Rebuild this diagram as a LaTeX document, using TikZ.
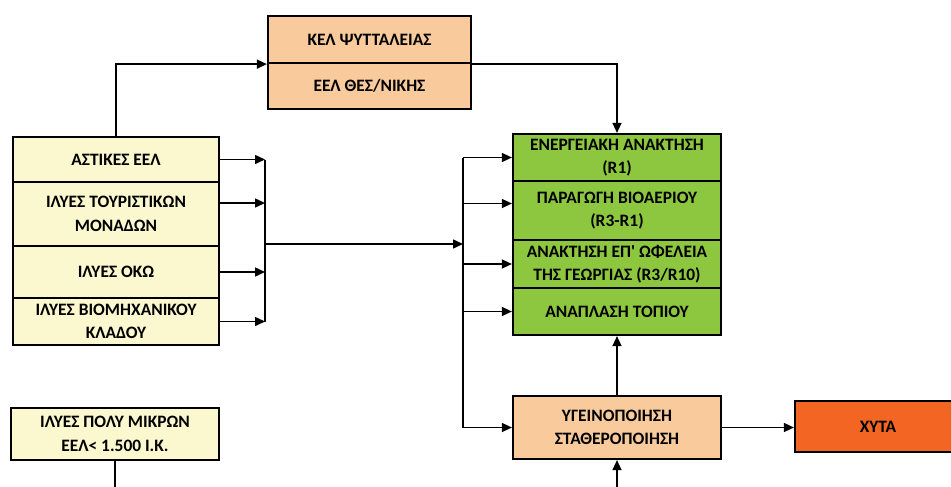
\documentclass[tikz,border=0pt]{standalone}
\usepackage{fontspec}
\setmainfont{Carlito}
\usetikzlibrary{arrows.meta}

\definecolor{paleorange}{HTML}{F9CB9C}
\definecolor{paleyellow}{HTML}{FBF7CE}
\definecolor{leafgreen}{HTML}{8DC63F}
\definecolor{deeporange}{HTML}{F26522}

\begin{document}
\begin{tikzpicture}[x = 1pt, y = -1pt, >={Triangle[length = 10pt, width = 9pt]},
	cell/.style = {draw, line width = 2.2pt, inner sep = 0pt, align = center,
		font = \fontsize{17.4}{23.5}\selectfont\bfseries},
	flow/.style = {line width = 1.5pt}]

\useasboundingbox (0, 0) rectangle (951, 487);

\node[cell, fill = paleorange, minimum width = 203, minimum height = 47] (kel) at (369.5, 39.5) {ΚΕΛ ΨΥΤΤΑΛΕΙΑΣ};
\node[cell, fill = paleorange, minimum width = 203, minimum height = 46] (eel) at (369.5, 86) {ΕΕΛ ΘΕΣ/ΝΙΚΗΣ};

\node[cell, fill = paleyellow, minimum width = 206, minimum height = 45] (ast) at (116, 159.5) {ΑΣΤΙΚΕΣ ΕΕΛ};
\node[cell, fill = paleyellow, minimum width = 206, minimum height = 64] (tour) at (116, 214) {ΙΛΥΕΣ ΤΟΥΡΙΣΤΙΚΩΝ\\ΜΟΝΑΔΩΝ};
\node[cell, fill = paleyellow, minimum width = 206, minimum height = 52] (oko) at (116, 272) {ΙΛΥΕΣ ΟΚΩ};
\node[cell, fill = paleyellow, minimum width = 206, minimum height = 47] (biom) at (116, 321.5) {ΙΛΥΕΣ ΒΙΟΜΗΧΑΝΙΚΟΥ\\ΚΛΑΔΟΥ};
\node[cell, fill = paleyellow, minimum width = 208, minimum height = 52] (mikr) at (115, 434) {ΙΛΥΕΣ ΠΟΛΥ ΜΙΚΡΩΝ\\ΕΕΛ< 1.500 Ι.Κ.};

\node[cell, fill = leafgreen, minimum width = 208, minimum height = 47] (r1) at (617, 157.5) {ΕΝΕΡΓΕΙΑΚΗ ΑΝΑΚΤΗΣΗ\\(R1)};
\node[cell, fill = leafgreen, minimum width = 208, minimum height = 59] (bio) at (617, 210.5) {ΠΑΡΑΓΩΓΗ ΒΙΟΑΕΡΙΟΥ\\(R3-R1)};
\node[cell, fill = leafgreen, minimum width = 208, minimum height = 48] (geo) at (617, 264) {ΑΝΑΚΤΗΣΗ ΕΠ\textquotesingle{} ΩΦΕΛΕΙΑ\\ΤΗΣ ΓΕΩΡΓΙΑΣ (R3/R10)};
\node[cell, fill = leafgreen, minimum width = 208, minimum height = 47] (topio) at (617, 311.5) {ΑΝΑΠΛΑΣΗ ΤΟΠΙΟΥ};

\node[cell, fill = paleorange, minimum width = 208, minimum height = 63] (yg) at (617, 427.5) {ΥΓΕΙΝΟΠΟΙΗΣΗ\\ΣΤΑΘΕΡΟΠΟΙΗΣΗ};
\node[cell, fill = deeporange, minimum width = 166, minimum height = 51] (xyta) at (878, 426.5) {ΧΥΤΑ};

\coordinate (jl) at (265, 244);
\coordinate (jr) at (463, 244);
\coordinate (tourout) at ([yshift = 11pt]tour.east);
\coordinate (bioin) at ([yshift = 7pt]bio.west);
\coordinate (feed) at (617, 492);

\draw[flow, ->] (ast.north) |- (kel.south west);
\draw[flow, ->] (kel.south east) -| (r1.north);

\foreach \n in {ast, oko, biom}
	\draw[flow, ->] (\n.east) -- (\n.east -| jl);
\draw[flow, ->] (tourout) -- (tourout -| jl);
\draw[flow] (ast.east -| jl) -- (biom.east -| jl);
\draw[flow, ->] (jl) -- (jr);

\draw[flow] (r1.west -| jr) -- (yg.west -| jr);
\foreach \n in {r1, geo, topio, yg}
	\draw[flow, ->] (\n.west -| jr) -- (\n.west);
\draw[flow, ->] (bioin -| jr) -- (bioin);

\draw[flow, ->] (yg.north) -- (topio.south);
\draw[flow, ->] (yg.east) -- (yg.east -| xyta.west);
\draw[flow, ->] (feed) -- (yg.south);
\draw[flow] (mikr.south) -- ++(0, 35);

\end{tikzpicture}
\end{document}
